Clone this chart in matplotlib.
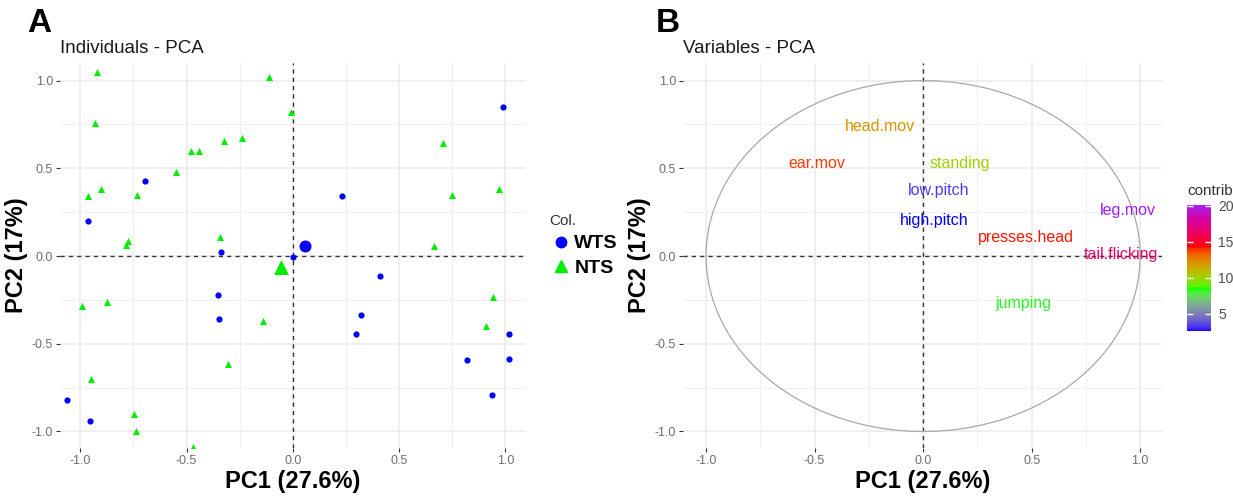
import numpy as np
import matplotlib
matplotlib.use("Agg")
import matplotlib.pyplot as plt
from matplotlib.colors import ListedColormap, Normalize, to_rgb
from matplotlib.lines import Line2D
import matplotlib.cm as cm

plt.rcParams['font.family'] = ['Liberation Sans', 'DejaVu Sans']

# ---- data: panel A (individuals) ----
wts_x = [-0.963, -0.697, -0.339, 0.0, 0.988, 0.23, -0.353, -0.348, -1.064, -0.954,
         0.409, 0.323, 0.298, 1.015, 0.82, 1.019, 0.936]
wts_y = [0.198, 0.426, 0.021, -0.004, 0.849, 0.344, -0.22, -0.357, -0.819, -0.942,
         -0.114, -0.338, -0.444, -0.444, -0.593, -0.587, -0.79]
nts_x = [-0.92, -0.93, -0.963, -0.90, -0.785, -0.774, -0.735, -0.55, -0.48, -0.44,
         -0.323, -0.237, -0.11, -0.01, -0.342, 0.706, 0.748, 0.969, 0.662, -0.99,
         -0.872, -0.949, -0.745, -0.74, -0.468, -0.138, -0.305, 0.944, 0.91]
nts_y = [1.05, 0.76, 0.34, 0.38, 0.063, 0.085, 0.35, 0.48, 0.60, 0.60,
         0.655, 0.674, 1.02, 0.82, 0.107, 0.642, 0.348, 0.38, 0.059, -0.283,
         -0.264, -0.70, -0.90, -0.997, -1.087, -0.37, -0.614, -0.235, -0.40]
wts_mean = (0.058, 0.059)
nts_mean = (-0.055, -0.06)
groups = ['WTS', 'NTS']

# ---- data: panel B (variables) ----
var_names = ['head.mov', 'ear.mov', 'standing', 'low.pitch', 'high.pitch',
             'presses.head', 'leg.mov', 'tail.flicking', 'jumping']
var_x = [-0.20, -0.49, 0.17, 0.07, 0.05, 0.475, 0.945, 0.91, 0.46]
var_y = [0.74, 0.53, 0.53, 0.376, 0.20, 0.108, 0.26, 0.01, -0.27]
var_contrib = [12.0, 13.9, 10.0, 3.3, 2.6, 14.2, 20.1, 16.5, 8.3]

ticks = [-1.0, -0.5, 0.0, 0.5, 1.0]
tick_labels = ['-1.0', '-0.5', '0.0', '0.5', '1.0']
minor = [-0.75, -0.25, 0.25, 0.75]

blue = '#0000FF'
green = '#00EE00'


# gradient interpolated in CIELAB, like ggplot's gradientn
def to_lab(rgb):
    c = np.array(rgb, dtype=float)
    c = np.where(c > 0.04045, ((c + 0.055) / 1.055) ** 2.4, c / 12.92)
    M = np.array([[0.4124, 0.3576, 0.1805],
                  [0.2126, 0.7152, 0.0722],
                  [0.0193, 0.1192, 0.9505]])
    xyz = M @ c / np.array([0.95047, 1.0, 1.08883])
    f = np.where(xyz > 0.008856, np.cbrt(xyz), 7.787 * xyz + 16 / 116)
    return np.array([116 * f[1] - 16, 500 * (f[0] - f[1]), 200 * (f[1] - f[2])])


def from_lab(lab):
    fy = (lab[0] + 16) / 116
    fx = fy + lab[1] / 500
    fz = fy - lab[2] / 200
    f = np.array([fx, fy, fz])
    xyz = np.where(f ** 3 > 0.008856, f ** 3, (f - 16 / 116) / 7.787)
    xyz = xyz * np.array([0.95047, 1.0, 1.08883])
    Minv = np.array([[3.2406, -1.5372, -0.4986],
                     [-0.9689, 1.8758, 0.0415],
                     [0.0557, -0.2040, 1.0570]])
    c = Minv @ xyz
    c = np.where(c > 0.0031308, 1.055 * np.clip(c, 0, None) ** (1 / 2.4) - 0.055, 12.92 * c)
    return np.clip(c, 0, 1)


def lab_cmap(colors, n=256):
    labs = [to_lab(to_rgb(c)) for c in colors]
    pos = np.linspace(0, 1, len(colors))
    out = []
    for t in np.linspace(0, 1, n):
        i = min(int(t * (len(colors) - 1)), len(colors) - 2)
        u = (t - pos[i]) / (pos[i + 1] - pos[i])
        out.append(from_lab((1 - u) * labs[i] + u * labs[i + 1]))
    return ListedColormap(out)


def style(ax, xlim, ylim):
    ax.set_xlim(*xlim)
    ax.set_ylim(*ylim)
    ax.set_xticks(ticks)
    ax.set_xticklabels(tick_labels)
    ax.set_yticks(ticks)
    ax.set_yticklabels(tick_labels)
    ax.set_xticks(minor, minor=True)
    ax.set_yticks(minor, minor=True)
    ax.grid(which='major', color='#EBEBEB', lw=1.1)
    ax.grid(which='minor', color='#F0F0F0', lw=0.8)
    ax.set_axisbelow(True)
    for s in ax.spines.values():
        s.set_visible(False)
    ax.tick_params(which='major', length=3, width=0.8, color='#333333',
                   labelsize=9, labelcolor='#6E6E6E', pad=2)
    ax.tick_params(which='minor', length=0)
    ax.axhline(0, color='#333333', lw=1.0, ls=(0, (3, 3)), zorder=1.5)
    ax.axvline(0, color='#333333', lw=1.0, ls=(0, (3, 3)), zorder=1.5)
    ax.set_xlabel('PC1 (27.6%)', fontsize=17, fontweight='bold', labelpad=2)
    ax.set_ylabel('PC2 (17%)', fontsize=17, fontweight='bold', labelpad=3)


fig = plt.figure(figsize=(12.33, 4.96), dpi=100)

# ---- panel A ----
axA = fig.add_axes([0.0487, 0.0968, 0.3777, 0.776])
style(axA, (-1.095, 1.096), (-1.094, 1.10))
axA.scatter(wts_x, wts_y, s=20, marker='o', color=blue, linewidths=0, zorder=3)
axA.scatter(nts_x, nts_y, s=26, marker='^', color=green, linewidths=0, zorder=3)
axA.scatter([wts_mean[0]], [wts_mean[1]], s=75, marker='o', color=blue, linewidths=0, zorder=3)
axA.scatter([nts_mean[0]], [nts_mean[1]], s=115, marker='^', color=green, linewidths=0, zorder=3)
fig.text(60 / 1233, 1 - 53 / 496, 'Individuals - PCA', fontsize=13.5, color='#1A1A1A')
fig.text(27 / 1233, 1 - 32 / 496, 'A', fontsize=24, fontweight='bold')

handles = [Line2D([], [], marker='o', ls='', color=blue, markersize=7.5),
           Line2D([], [], marker='^', ls='', color=green, markersize=8.5)]
leg = fig.legend(handles, groups, title='Col.', loc='upper left',
                 bbox_to_anchor=(549 / 1233, 1 - 214 / 496), frameon=False,
                 prop={'size': 14, 'weight': 'bold'}, title_fontsize=11,
                 handletextpad=0.1, handlelength=1.2, labelspacing=0.35,
                 borderaxespad=0, borderpad=0)
leg.get_title().set_color('#333333')
leg._legend_box.align = 'left'

# ---- panel B ----
axB = fig.add_axes([0.554, 0.0968, 0.3885, 0.776])
style(axB, (-1.106, 1.101), (-1.094, 1.10))
theta = np.linspace(0, 2 * np.pi, 400)
axB.plot(np.cos(theta), np.sin(theta), color='#A8A8A8', lw=0.9, zorder=2)

cmap = lab_cmap(['#0000FF', '#00FF00', '#FF0000', '#A020F0'])
norm = Normalize(min(var_contrib), max(var_contrib))
for name, x, y, c in zip(var_names, var_x, var_y, var_contrib):
    axB.text(x, y, name, color=cmap(norm(c)), ha='center', va='center',
             fontsize=11.5, zorder=4)
fig.text(656 / 1233, 1 - 32 / 496, 'B', fontsize=24, fontweight='bold')
fig.text(683 / 1233, 1 - 53 / 496, 'Variables - PCA', fontsize=13.5, color='#1A1A1A')

cax = fig.add_axes([1187 / 1233, 1 - 331 / 496, 24 / 1233, 126 / 496])
sm = cm.ScalarMappable(norm=norm, cmap=cmap)
cb = fig.colorbar(sm, cax=cax, ticks=[5, 10, 15, 20])
cb.outline.set_visible(False)
cax.tick_params(direction='in', color='white', length=4, width=1,
                left=True, right=True, labelsize=10, labelcolor='#4D4D4D', pad=5)
cax.set_title('contrib', loc='left', fontsize=11, color='#333333', pad=7)

fig.savefig('out.png', dpi=100)
